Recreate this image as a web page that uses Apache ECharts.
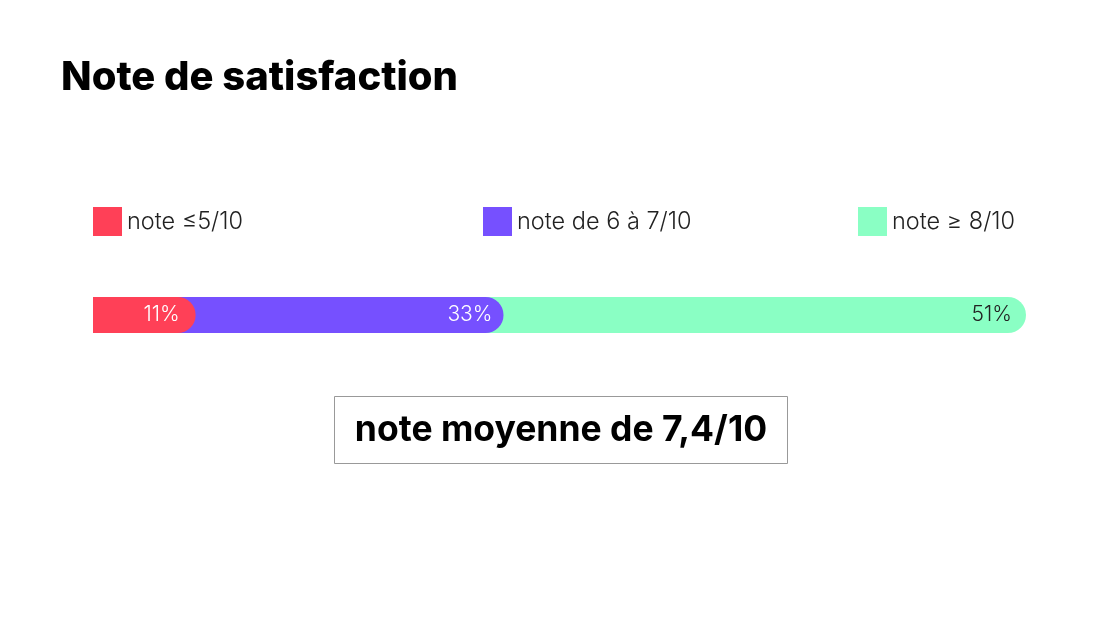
<!DOCTYPE html>
<html><head><meta charset="utf-8">
<script src="https://cdn.jsdelivr.net/npm/echarts@6/dist/echarts.min.js"></script>
<style>html,body{margin:0;padding:0;background:#fff}#c{width:1120px;height:630px}</style>
</head><body><div id="c"></div>
<script>
const categories = ['note ≤5/10', 'note de 6 à 7/10', 'note ≥ 8/10'];
const values = [11, 33, 51];
const labels = ['11%', '33%', '51%'];
const colors = ['#FF4057', '#7650FF', '#8AFFC4'];
const title = 'Note de satisfaction';
const average = 'note moyenne de 7,4/10';

// Cumulative ends of overlapping rounded bars; last bar fills the track.
const ends = [values[0], values[0] + values[1], 100];
const labelColors = ['#fff', '#fff', '#222'];
const labelDist = [16, 11, 14];
const legendLeft = [93, 483, 858];

const chart = echarts.init(document.getElementById('c'), null, {renderer: 'canvas'});
const FONT = 'Inter';
const series = [2, 1, 0].map(i => ({
  name: categories[i],
  type: 'bar',
  data: [ends[i]],
  barWidth: 36,
  barGap: '-100%',
  itemStyle: {color: colors[i], borderRadius: [0, 18, 18, 0]},
  label: {
    show: true, position: 'insideRight', distance: labelDist[i],
    formatter: labels[i], color: labelColors[i],
    fontSize: 21, fontFamily: FONT, fontWeight: 300
  },
  emphasis: {disabled: true},
  animation: false
}));
chart.setOption({
  animation: false,
  title: {text: title, left: 61, top: 58, padding: 0,
    textStyle: {fontSize: 40, fontWeight: 800, fontFamily: FONT, color: '#000'}},
  legend: categories.map((c, i) => ({
    data: [c], left: legendLeft[i], top: 207, padding: 0,
    itemWidth: 29, itemHeight: 29, icon: 'rect', itemGap: 7,
    selectedMode: false,
    textStyle: {fontSize: 23.5, fontFamily: FONT, fontWeight: 300, color: '#222'}
  })),
  grid: {left: 93, right: 94, top: 297, height: 36},
  xAxis: {type: 'value', min: 0, max: 100, show: false},
  yAxis: {type: 'category', data: [''], show: false},
  series: series,
  graphic: [{
    type: 'group', left: 334, top: 396,
    children: [
      {type: 'rect', shape: {x: 0, y: 0, width: 453, height: 67},
        style: {fill: '#fff', stroke: '#999', lineWidth: 1}},
      {type: 'text', x: 226.5, y: 34,
        style: {text: average, fontSize: 35.5, fontWeight: 700, fontFamily: FONT,
          fill: '#000', align: 'center', verticalAlign: 'middle'}}
    ]
  }]
});
</script></body></html>
